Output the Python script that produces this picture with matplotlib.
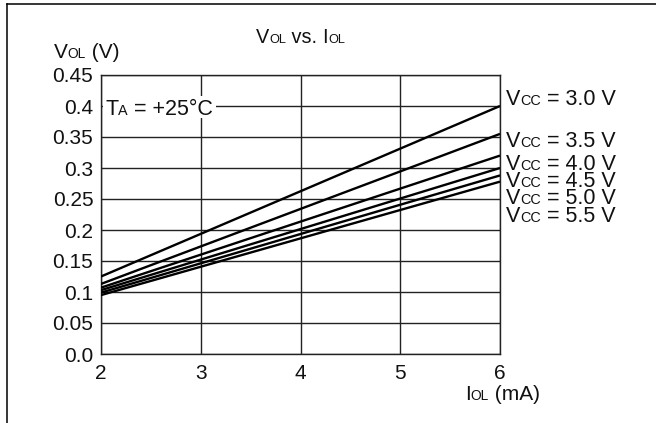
import matplotlib
matplotlib.use("Agg")
import matplotlib.pyplot as plt
from matplotlib.transforms import IdentityTransform
from matplotlib.patches import Rectangle
from matplotlib.lines import Line2D
from matplotlib.font_manager import FontProperties

plt.rcParams['font.family'] = ['Liberation Sans', 'DejaVu Sans']

# ---- data ----
iol = [2, 6]
vol_30 = [0.125, 0.400]
vol_35 = [0.113, 0.355]
vol_40 = [0.107, 0.320]
vol_45 = [0.103, 0.300]
vol_50 = [0.099, 0.288]
vol_55 = [0.095, 0.278]
series = [vol_30, vol_35, vol_40, vol_45, vol_50, vol_55]
vcc_labels = ["3.0", "3.5", "4.0", "4.5", "5.0", "5.5"]
x_ticks = [2, 3, 4, 5, 6]
y_ticks = [0.0, 0.05, 0.1, 0.15, 0.2, 0.25, 0.3, 0.35, 0.4, 0.45]
y_tick_labels = ["0.0", "0.05", "0.1", "0.15", "0.2", "0.25", "0.3", "0.35", "0.4", "0.45"]

W, H = 656, 423
FS = 15

fig = plt.figure(figsize=(W / 100, H / 100), dpi=100)
ax = fig.add_axes([101 / W, 1 - 354 / H, 399 / W, 279 / H])
ax.set_xlim(2, 6)
ax.set_ylim(0, 0.45)
ax.set_xticks(x_ticks)
ax.set_yticks(y_ticks)
ax.set_yticklabels(y_tick_labels)
ax.tick_params(length=0, labelsize=FS, colors='#111111')
ax.tick_params(axis='y', pad=5.5)
ax.tick_params(axis='x', pad=7)
ax.grid(True, color='#222222', linewidth=1.0)
for s in ax.spines.values():
    s.set_color('#222222')
    s.set_linewidth(1.0)

for vals in series:
    ax.plot(iol, vals, color='black', linewidth=1.7, solid_capstyle='butt', zorder=3)

renderer = fig.canvas.get_renderer()


def seg_width(s, size):
    fp = FontProperties(family=['Liberation Sans', 'DejaVu Sans'], size=size)
    w1, _, _ = renderer.get_text_width_height_descent("|" + s + "|", fp, ismath=False)
    w0, _, _ = renderer.get_text_width_height_descent("||", fp, ismath=False)
    return (w1 - w0)


def rich(x_img, baseline_img, parts, fs=FS, zorder=5):
    # parts: list of (text, scale)
    x = x_img
    y = H - baseline_img
    for s, sc in parts:
        size = fs * sc
        fig.text(x, y, s, fontsize=size, ha='left', va='baseline',
                 transform=IdentityTransform(), color='#111111', zorder=zorder)
        x += seg_width(s, size)


# outer frame (partial box)
fig.add_artist(Line2D([7, W], [H - 4, H - 4], transform=IdentityTransform(), color='black', linewidth=1.1))
fig.add_artist(Line2D([7, 7], [H - 4, 0], transform=IdentityTransform(), color='black', linewidth=1.1))

# title and axis labels
rich(256, 43, [("V", 1), ("OL", 0.64), (" vs. ", 1), ("I", 1), ("OL", 0.64)], fs=14.3)
rich(54, 58, [("V", 1), ("OL", 0.66), (" (V)", 1)])
rich(465, 400, [("I", 1), ("OL", 0.66), (" (mA)", 1)])

# temperature annotation with white background
fig.add_artist(Rectangle((103, H - 118), 113, 22, transform=IdentityTransform(),
                         facecolor='white', edgecolor='none', zorder=4))
rich(105, 115, [("T", 1), ("A", 0.67), (" = +25°C", 1)], fs=15.5)

# Vcc labels
baselines = [105, 147, 170, 187, 204, 222]
for lab, b in zip(vcc_labels, baselines):
    rich(506, b, [("V", 1), ("CC", 0.67), (" = " + lab + " V", 1)], fs=15.5)

fig.savefig("out.png", dpi=100)
